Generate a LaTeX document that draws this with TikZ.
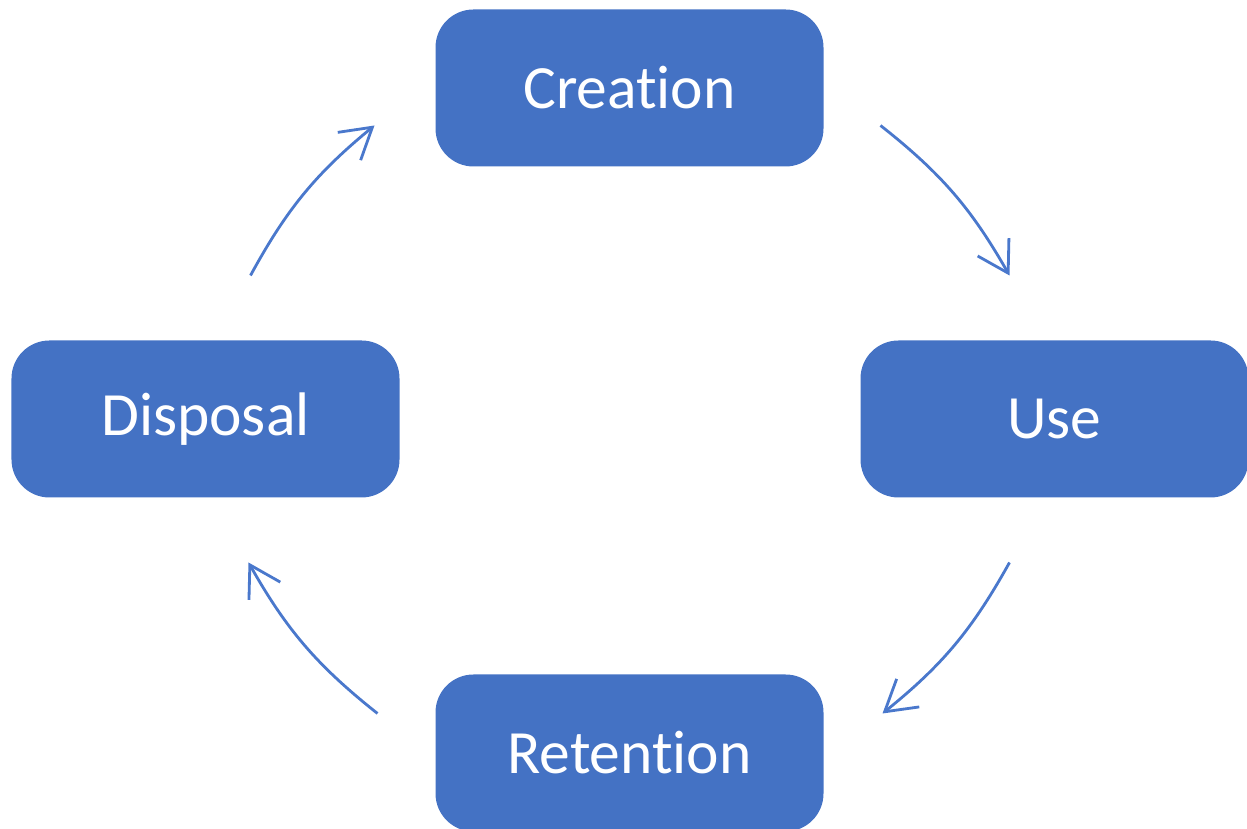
\documentclass[tikz,border=0pt]{standalone}
\usepackage{fontspec}
\setmainfont[Ligatures=NoCommon]{Carlito}
\usepackage{xcolor}
\usepackage{tikz}
\usetikzlibrary{arrows.meta, positioning}
\definecolor{cycleblue}{HTML}{4472C4}
\definecolor{arrowblue}{HTML}{4A78CC}

\begin{document}
\begin{tikzpicture}[
    node distance=1.74cm and 0.37cm,
    box/.style={rectangle, rounded corners=0.38cm, fill=cycleblue, draw=none,
                minimum width=3.88cm, minimum height=1.57cm, outer sep=0pt,
                text=white, font=\fontsize{17.5}{21}\selectfont},
    arrow/.style={-{Straight Barb[length=3mm, width=3.6mm]}, line width=0.8pt, arrowblue, bend left=11}
]
    \useasboundingbox (0,0) rectangle (12.47,8.29);

    % Nodes
    \node[box] at (6.295,7.41) (creation) {Creation};
    \node[box, below right=of creation] (use) {Use};
    \node[box, below left=1.74cm and 0.36cm of creation] (disposal) {Disposal};
    \node[box, below=5.08cm of creation] (retention) {Retention};

    % Arrows
    \draw[arrow] ([shift={(0.57,0.41)}]creation.south east) to ([shift={(-0.45,0.65)}]use.north);
    \draw[arrow] ([shift={(-0.45,-0.65)}]use.south) to ([shift={(0.59,-0.39)}]retention.north east);
    \draw[arrow] ([shift={(-0.58,-0.39)}]retention.north west) to ([shift={(0.43,-0.65)}]disposal.south);
    \draw[arrow] ([shift={(0.45,0.65)}]disposal.north) to ([shift={(-0.61,0.41)}]creation.south west);
\end{tikzpicture}
\end{document}
